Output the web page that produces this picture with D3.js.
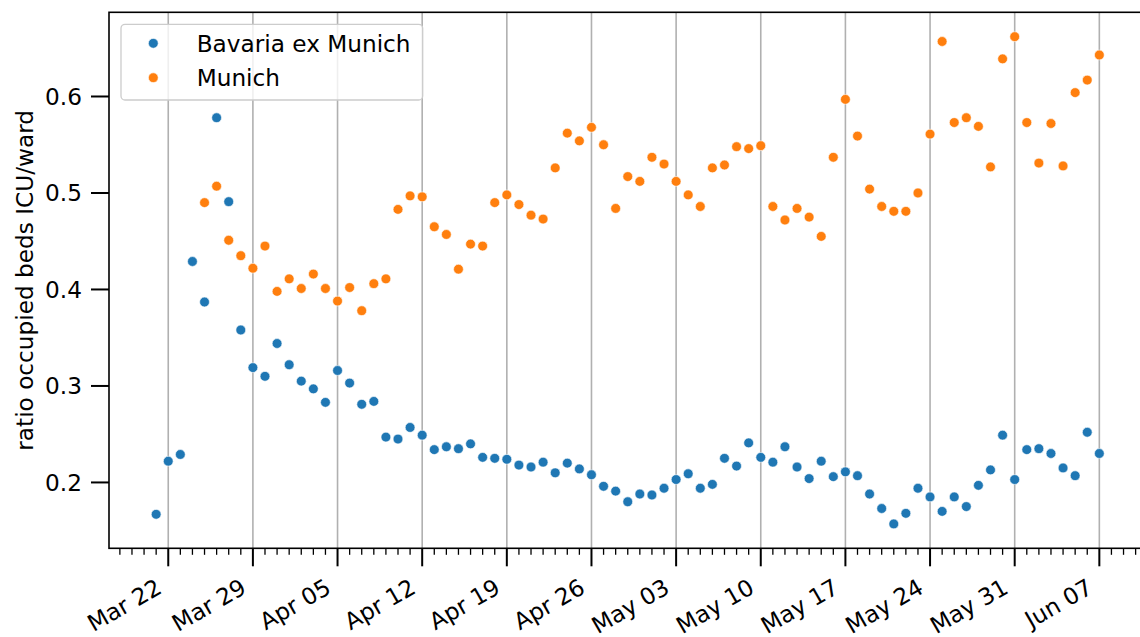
<!DOCTYPE html>
<html>
<head>
<meta charset="utf-8">
<script src="https://cdn.jsdelivr.net/npm/d3@7"></script>
<style>
  body { margin: 0; background: #fff; }
  svg text { font-family: "DejaVu Sans", sans-serif; fill: #000; }
</style>
</head>
<body>
<div id="chart"></div>
<script>
// --- Data ---
const startDate = "2020-03-21";
const endDate = "2020-06-07";
const bavariaExMunich = [
  0.167, 0.222, 0.229, 0.429, 0.387, 0.578, 0.491, 0.358, 0.319, 0.310, 0.344,
  0.322, 0.305, 0.297, 0.283, 0.316, 0.303, 0.281, 0.284, 0.247, 0.245, 0.257, 0.249, 0.234, 0.237, 0.235,
  0.240, 0.226, 0.225, 0.224, 0.218, 0.216, 0.221, 0.210, 0.220, 0.214, 0.208, 0.196, 0.191, 0.180, 0.188,
  0.187, 0.194, 0.203, 0.209, 0.194, 0.198, 0.225, 0.217, 0.241, 0.226, 0.221, 0.237, 0.216, 0.204, 0.222,
  0.206, 0.211, 0.207, 0.188, 0.173, 0.157, 0.168, 0.194, 0.185, 0.170, 0.185, 0.175, 0.197, 0.213, 0.249, 0.203,
  0.234, 0.235, 0.230, 0.215, 0.207, 0.252, 0.230
];
const munich = [
  null, null, null, null, 0.490, 0.507, 0.451, 0.435, 0.422, 0.445, 0.398,
  0.411, 0.401, 0.416, 0.401, 0.388, 0.402, 0.378, 0.406, 0.411, 0.483, 0.497, 0.496, 0.465, 0.457, 0.421,
  0.447, 0.445, 0.490, 0.498, 0.488, 0.477, 0.473, 0.526, 0.562, 0.554, 0.568, 0.550, 0.484, 0.517, 0.512,
  0.537, 0.530, 0.512, 0.498, 0.486, 0.526, 0.529, 0.548, 0.546, 0.549, 0.486, 0.472, 0.484, 0.475, 0.455,
  0.537, 0.597, 0.559, 0.504, 0.486, 0.481, 0.481, 0.500, 0.561, 0.657, 0.573, 0.578, 0.569, 0.527, 0.639, 0.662,
  0.573, 0.531, 0.572, 0.528, 0.604, 0.617, 0.643
];
const yTicks = [0.2, 0.3, 0.4, 0.5, 0.6];
const seriesNames = ["Bavaria ex Munich", "Munich"];
const seriesColors = ["#1f77b4", "#ff7f0e"];

// --- Setup ---
const width = 1140, height = 637;
const plot = { left: 109, right: 1146.5, top: 12.3, bottom: 548.3 };
const fontSize = 23.2;

const parse = d3.utcParse("%Y-%m-%d");
const dates = d3.utcDay.range(parse(startDate), d3.utcDay.offset(parse(endDate), 1));

const svg = d3.select("#chart").append("svg")
  .attr("width", width).attr("height", height);

// matplotlib-style 5% margins
const t0 = dates[0].getTime(), t1 = dates[dates.length - 1].getTime();
const xPad = (t1 - t0) * 0.05;
const x = d3.scaleUtc()
  .domain([new Date(t0 - xPad), new Date(t1 + xPad)])
  .range([plot.left, plot.right]);

const allVals = bavariaExMunich.concat(munich.filter(v => v != null));
const yMin = d3.min(allVals), yMax = d3.max(allVals);
const yPad = (yMax - yMin) * 0.05;
const y = d3.scaleLinear()
  .domain([yMin - yPad, yMax + yPad])
  .range([plot.bottom, plot.top]);

const majorTicks = d3.utcSunday.range(x.domain()[0], x.domain()[1]);
const minorTicks = d3.utcDay.range(d3.utcDay.ceil(x.domain()[0]), x.domain()[1])
  .filter(d => d.getUTCDay() !== 0);

// --- Grid (vertical only) ---
svg.append("g").selectAll("line")
  .data(majorTicks).enter().append("line")
  .attr("x1", d => x(d)).attr("x2", d => x(d))
  .attr("y1", plot.top).attr("y2", plot.bottom)
  .attr("stroke", "#b0b0b0").attr("stroke-width", 1.6);

// --- Points ---
const series = [bavariaExMunich, munich];
series.forEach((vals, i) => {
  svg.append("g").selectAll("circle")
    .data(vals.map((v, j) => ({ date: dates[j], v })).filter(d => d.v != null))
    .enter().append("circle")
    .attr("cx", d => x(d.date))
    .attr("cy", d => y(d.v))
    .attr("r", 4.9)
    .attr("fill", seriesColors[i])
    .attr("stroke", "#fff")
    .attr("stroke-width", 0.6);
});

// --- Axes ---
const axisG = svg.append("g");

// spines
axisG.append("rect")
  .attr("x", plot.left).attr("y", plot.top)
  .attr("width", plot.right - plot.left).attr("height", plot.bottom - plot.top)
  .attr("fill", "none").attr("stroke", "#000").attr("stroke-width", 1.6);

// x minor ticks
axisG.append("g").selectAll("line")
  .data(minorTicks).enter().append("line")
  .attr("x1", d => x(d)).attr("x2", d => x(d))
  .attr("y1", plot.bottom).attr("y2", plot.bottom + 6.5)
  .attr("stroke", "#000").attr("stroke-width", 1.3);

// x major ticks + labels
const fmt = d3.utcFormat("%b %d");
const xMaj = axisG.append("g").selectAll("g")
  .data(majorTicks).enter().append("g");
xMaj.append("line")
  .attr("x1", d => x(d)).attr("x2", d => x(d))
  .attr("y1", plot.bottom).attr("y2", plot.bottom + 18)
  .attr("stroke", "#000").attr("stroke-width", 2);
xMaj.append("text")
  .attr("transform", d => `translate(${x(d) - 5},592) rotate(-30)`)
  .attr("text-anchor", "end")
  .style("font-size", fontSize + "px")
  .text(d => fmt(d));

// y ticks + labels
const yT = axisG.append("g").selectAll("g")
  .data(yTicks).enter().append("g");
yT.append("line")
  .attr("x1", plot.left - 18).attr("x2", plot.left)
  .attr("y1", d => y(d)).attr("y2", d => y(d))
  .attr("stroke", "#000").attr("stroke-width", 2);
yT.append("text")
  .attr("x", plot.left - 27)
  .attr("y", d => y(d))
  .attr("dy", "0.36em")
  .attr("text-anchor", "end")
  .style("font-size", fontSize + "px")
  .text(d => d.toFixed(1));

// y label
svg.append("text")
  .attr("transform", `translate(32.5,${(plot.top + plot.bottom) / 2}) rotate(-90)`)
  .attr("text-anchor", "middle")
  .style("font-size", fontSize + "px")
  .text("ratio occupied beds ICU/ward");

// --- Legend ---
const legend = svg.append("g");
legend.append("rect")
  .attr("x", 121).attr("y", 24.3)
  .attr("width", 301.7).attr("height", 75.7)
  .attr("rx", 4).attr("ry", 4)
  .attr("fill", "#fff").attr("fill-opacity", 0.8)
  .attr("stroke", "#cccccc").attr("stroke-width", 1.3);
seriesNames.forEach((name, i) => {
  const cy = 43.3 + i * 34.4;
  legend.append("circle")
    .attr("cx", 153.3).attr("cy", cy).attr("r", 4.9)
    .attr("fill", seriesColors[i]).attr("stroke", "#fff").attr("stroke-width", 0.6);
  legend.append("text")
    .attr("x", 196.7).attr("y", cy + 8.4)
    .style("font-size", fontSize + "px")
    .text(name);
});
</script>
</body>
</html>
